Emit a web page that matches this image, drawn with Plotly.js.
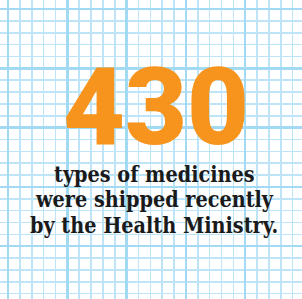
<!DOCTYPE html>
<html>
<head>
<meta charset="utf-8">
<script src="https://cdn.plot.ly/plotly-3.0.1.min.js"></script>
<style>html,body{margin:0;padding:0;background:#fff;}#chart{width:302px;height:299px;}</style>
</head>
<body>
<div id="chart"></div>
<script>
// Data
const headlineValue = ["430"];
const descriptionLines = ["types of medicines", "were shipped recently", "by the Health Ministry."];

const W = 302, H = 299;
const cell = 11.86;
const orange = '#f7941d';

const annotations = [];
annotations.push({
  x: 155.5, y: 107.5, xref: 'x', yref: 'y', xanchor: 'center', yanchor: 'middle',
  text: headlineValue[0], showarrow: false,
  font: {family: 'Roboto', weight: 900, size: 107, color: orange}
});
descriptionLines.forEach((line, i) => {
  annotations.push({
    x: 154, y: 174 + i * 25.5, xref: 'x', yref: 'y', xanchor: 'center', yanchor: 'middle',
    text: line, showarrow: false,
    font: {family: 'DejaVu Serif Condensed', weight: 700, size: 21.4, color: '#1a1a1a'}
  });
});

function axis(start, range) {
  return {
    range: range, showticklabels: false, zeroline: false, showline: false, ticks: '',
    showgrid: true, gridcolor: '#a3daf3', gridwidth: 2.5, tick0: start, dtick: cell * 5,
    minor: {showgrid: true, gridcolor: '#bde5f7', gridwidth: 1.6, tick0: start, dtick: cell},
    fixedrange: true
  };
}

const layout = {
  width: W, height: H,
  margin: {l: 0, r: 0, t: 0, b: 0},
  paper_bgcolor: '#ffffff', plot_bgcolor: '#ffffff',
  xaxis: axis(8, [0, W]),
  yaxis: axis(9, [H, 0]),
  annotations: annotations,
  showlegend: false
};

Plotly.newPlot('chart', [], layout, {staticPlot: true, displayModeBar: false});
</script>
</body>
</html>
